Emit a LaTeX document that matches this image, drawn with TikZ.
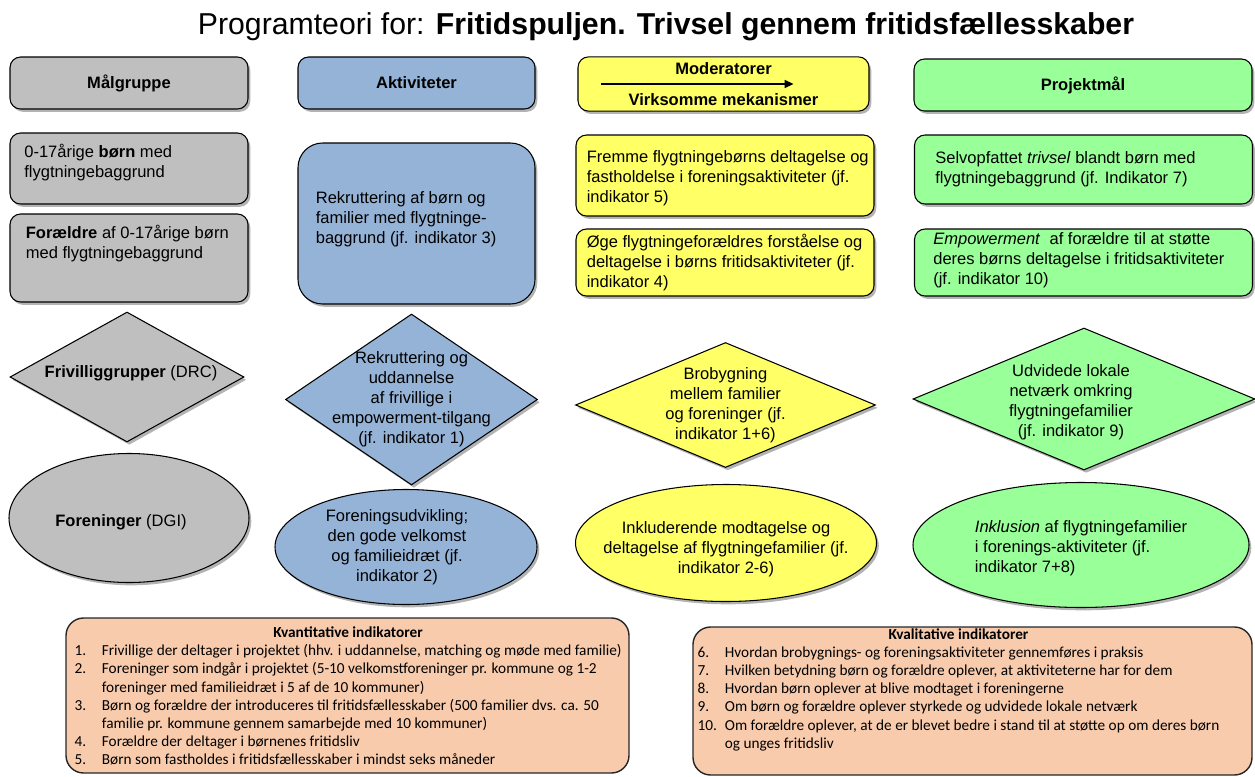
\documentclass[tikz,border=0pt]{standalone}
\usepackage{fontspec}
\setmainfont{Liberation Sans}
\newfontfamily\calibrifont{Carlito}
\usetikzlibrary{shapes.geometric,shadows,arrows.meta}

\definecolor{graafyld}{RGB}{191,191,191}
\definecolor{blaafyld}{RGB}{149,179,215}
\definecolor{gulfyld}{RGB}{255,255,102}
\definecolor{groenfyld}{RGB}{153,255,153}
\definecolor{ferskenfyld}{RGB}{248,203,173}

\begin{document}
\begin{tikzpicture}[
        kasse/.style={
            rectangle,
            rounded corners=6pt,
            draw=black,
            line width=0.6pt,
            drop shadow={shadow xshift=1.3pt, shadow yshift=-1.6pt, opacity=0.6}
        },
        hoved/.style={
            kasse,
            minimum height=1.04cm,
            align=center,
            font=\bfseries\fontsize{9.4}{11.3}\selectfont
        },
        rude/.style={
            diamond,
            draw=black,
            line width=0.6pt,
            inner sep=0pt,
            drop shadow={shadow xshift=1.3pt, shadow yshift=-1.6pt, opacity=0.6}
        },
        oval/.style={
            ellipse,
            draw=black,
            line width=0.6pt,
            inner sep=0pt,
            drop shadow={shadow xshift=1.3pt, shadow yshift=-1.6pt, opacity=0.6}
        },
        tekst/.style={inner sep=0pt, align=left, font=\fontsize{9.4}{11.4}\selectfont},
        midttekst/.style={tekst, align=center},
        indik/.style={
            rectangle,
            rounded corners=10pt,
            draw=black!85,
            line width=0.8pt,
            fill=ferskenfyld
        },
        indtekst/.style={inner sep=0pt, font=\calibrifont\fontsize{8.7}{10.35}\selectfont}
    ]
    \useasboundingbox (0,0) rectangle (25.1,-15.52);

    % Titel
    \node (titel) at (13.32,-0.54) {\fontsize{17.2}{20}\selectfont Programteori for: \textbf{Fritidspuljen. Trivsel gennem fritidsfællesskaber}};

    % Overskrifter
    \node[hoved, fill=graafyld, minimum width=4.76cm] (hdrmaal) at (2.58,-1.66) {Målgruppe};
    \node[hoved, fill=blaafyld, minimum width=4.74cm] (hdrakt) at (8.33,-1.66) {Aktiviteter};
    \node[hoved, fill=gulfyld, minimum width=5.82cm] (hdrmod) at (14.47,-1.68) {Moderatorer\\[6pt]Virksomme mekanismer};
    \node[hoved, fill=groenfyld, minimum width=6.76cm] (hdrprojekt) at (21.66,-1.70) {Projektmål};
    \coordinate (pilstart) at ([xshift=0.48cm]hdrmod.west);
    \coordinate (pilslut) at ([xshift=-1.52cm]hdrmod.east);
    \draw[-{Triangle[length=5pt,width=4.5pt]}, line width=0.7pt] (pilstart) -- (pilslut);

    % Kasser
    \node[kasse, fill=graafyld, minimum width=4.76cm, minimum height=1.42cm] (boern) at (2.58,-3.37) {};
    \node[kasse, fill=graafyld, minimum width=4.76cm, minimum height=1.76cm] (foraeldre) at (2.58,-5.16) {};
    \node[kasse, fill=blaafyld, rounded corners=14pt, minimum width=4.74cm, minimum height=3.22cm] (rekrut) at (8.33,-4.47) {};
    \node[kasse, fill=gulfyld, minimum width=5.96cm, minimum height=1.62cm] (fremme) at (14.50,-3.51) {};
    \node[kasse, fill=gulfyld, minimum width=5.96cm, minimum height=1.34cm] (oege) at (14.50,-5.25) {};
    \node[kasse, fill=groenfyld, minimum width=6.76cm, minimum height=1.38cm] (trivsel) at (21.67,-3.39) {};
    \node[kasse, fill=groenfyld, minimum width=6.76cm, minimum height=1.34cm] (empow) at (21.67,-5.25) {};

    \node[tekst, anchor=west] (boern-t) at ([xshift=0.29cm, yshift=0.12cm]boern.west) {0-17årige \textbf{børn} med\\flygtningebaggrund};
    \node[tekst, anchor=west] (foraeldre-t) at ([xshift=0.32cm, yshift=0.28cm]foraeldre.west) {\textbf{Forældre} af 0-17årige børn\\med flygtningebaggrund};
    \node[tekst, anchor=west] (rekrut-t) at ([xshift=0.36cm, yshift=0.09cm]rekrut.west) {Rekruttering af børn og\\familier med flygtninge-\\baggrund (jf. indikator 3)};
    \node[tekst, anchor=west] (fremme-t) at ([xshift=0.22cm, yshift=-0.05cm]fremme.west) {Fremme flygtningebørns deltagelse og\\fastholdelse i foreningsaktiviteter (jf.\\indikator 5)};
    \node[tekst, anchor=west] (oege-t) at ([xshift=0.22cm]oege.west) {Øge flygtningeforældres forståelse og\\deltagelse i børns fritidsaktiviteter (jf.\\indikator 4)};
    \node[tekst, anchor=west] (trivsel-t) at ([xshift=0.42cm]trivsel.west) {Selvopfattet \textit{trivsel} blandt børn med\\flygtningebaggrund (jf. Indikator 7)};
    \node[tekst, anchor=west] (empow-t) at ([xshift=0.38cm, yshift=0.05cm]empow.west) {\textit{Empowerment}\ \ af forældre til at støtte\\deres børns deltagelse i fritidsaktiviteter\\(jf. indikator 10)};

    % Ruder
    \node[rude, fill=graafyld, minimum width=4.68cm, minimum height=2.6cm] (frivillig) at (2.54,-7.54) {};
    \node[rude, fill=blaafyld, minimum width=5.04cm, minimum height=3.42cm] (uddan) at (8.23,-7.99) {};
    \node[rude, fill=gulfyld, minimum width=6.0cm, minimum height=2.5cm] (brobyg) at (14.51,-8.10) {};
    \node[rude, fill=groenfyld, minimum width=6.84cm, minimum height=2.84cm] (netvaerk) at (21.68,-7.98) {};

    \node[midttekst] (frivillig-t) at ([xshift=0.08cm, yshift=0.08cm]frivillig.center) {\textbf{Frivilliggrupper} (DRC)};
    \node[midttekst] (uddan-t) at (uddan.center) {Rekruttering og\\uddannelse\\af frivillige i\\empowerment-tilgang\\(jf. indikator 1)};
    \node[midttekst] (brobyg-t) at (brobyg.center) {Brobygning\\mellem familier\\og foreninger (jf.\\indikator 1+6)};
    \node[midttekst] (netvaerk-t) at ([xshift=-0.26cm, yshift=-0.06cm]netvaerk.center) {Udvidede lokale\\netværk omkring\\flygtningefamilier\\(jf. indikator 9)};

    % Ovaler
    \node[oval, fill=graafyld, minimum width=4.8cm, minimum height=2.58cm] (foreninger) at (2.58,-10.36) {};
    \node[oval, fill=blaafyld, minimum width=5.24cm, minimum height=2.3cm] (udvikling) at (8.12,-10.94) {};
    \node[oval, fill=gulfyld, minimum width=6.02cm, minimum height=2.34cm] (modtag) at (14.52,-10.86) {};
    \node[oval, fill=groenfyld, minimum width=6.72cm, minimum height=2.5cm] (inklusion) at (21.62,-10.90) {};

    \node[midttekst] (foreninger-t) at ([xshift=-0.16cm, yshift=-0.08cm]foreninger.center) {\textbf{Foreninger} (DGI)};
    \node[midttekst] (udvikling-t) at ([xshift=-0.18cm]udvikling.center) {Foreningsudvikling;\\den gode velkomst\\og familieidræt (jf.\\indikator 2)};
    \node[midttekst] (modtag-t) at ([yshift=-0.12cm]modtag.center) {Inkluderende modtagelse og\\deltagelse af flygtningefamilier (jf.\\indikator 2-6)};
    \node[tekst] (inklusion-t) at ([yshift=-0.06cm]inklusion.center) {\textit{Inklusion} af flygtningefamilier\\i forenings-aktiviteter (jf.\\indikator 7+8)};

    % Indikatorer
    \node[indik, minimum width=11.26cm, minimum height=3.1cm] (kvant) at (6.95,-13.91) {};
    \node[indik, minimum width=11.18cm, minimum height=2.96cm] (kval) at (19.45,-14.02) {};

    \node[indtekst, anchor=west] (kvant-t) at ([xshift=0.18cm, yshift=-0.04cm]kvant.west) {%
        \begin{tabular}{@{}p{15.5pt}@{}l@{}}
        \multicolumn{2}{c}{\textbf{Kvantitative indikatorer}}\\
        1. & Frivillige der deltager i projektet (hhv. i uddannelse, matching og møde med familie)\\
        2. & Foreninger som indgår i projektet (5-10 velkomstforeninger pr. kommune og 1-2\\
           & foreninger med familieidræt i 5 af de 10 kommuner)\\
        3. & Børn og forældre der introduceres til fritidsfællesskaber (500 familier dvs. ca. 50\\
           & familie pr. kommune gennem samarbejde med 10 kommuner)\\
        4. & Forældre der deltager i børnenes fritidsliv\\
        5. & Børn som fastholdes i fritidsfællesskaber i mindst seks måneder
        \end{tabular}};
    \node[indtekst, anchor=west] (kval-t) at ([xshift=0.1cm, yshift=0.22cm]kval.west) {%
        \begin{tabular}{@{}p{15.5pt}@{}l@{}}
        \multicolumn{2}{c}{\textbf{Kvalitative indikatorer}}\\
        6. & Hvordan brobygnings- og foreningsaktiviteter gennemføres i praksis\\
        7. & Hvilken betydning børn og forældre oplever, at aktiviteterne har for dem\\
        8. & Hvordan børn oplever at blive modtaget i foreningerne\\
        9. & Om børn og forældre oplever styrkede og udvidede lokale netværk\\
        10. & Om forældre oplever, at de er blevet bedre i stand til at støtte op om deres børn\\
            & og unges fritidsliv
        \end{tabular}};
\end{tikzpicture}
\end{document}
